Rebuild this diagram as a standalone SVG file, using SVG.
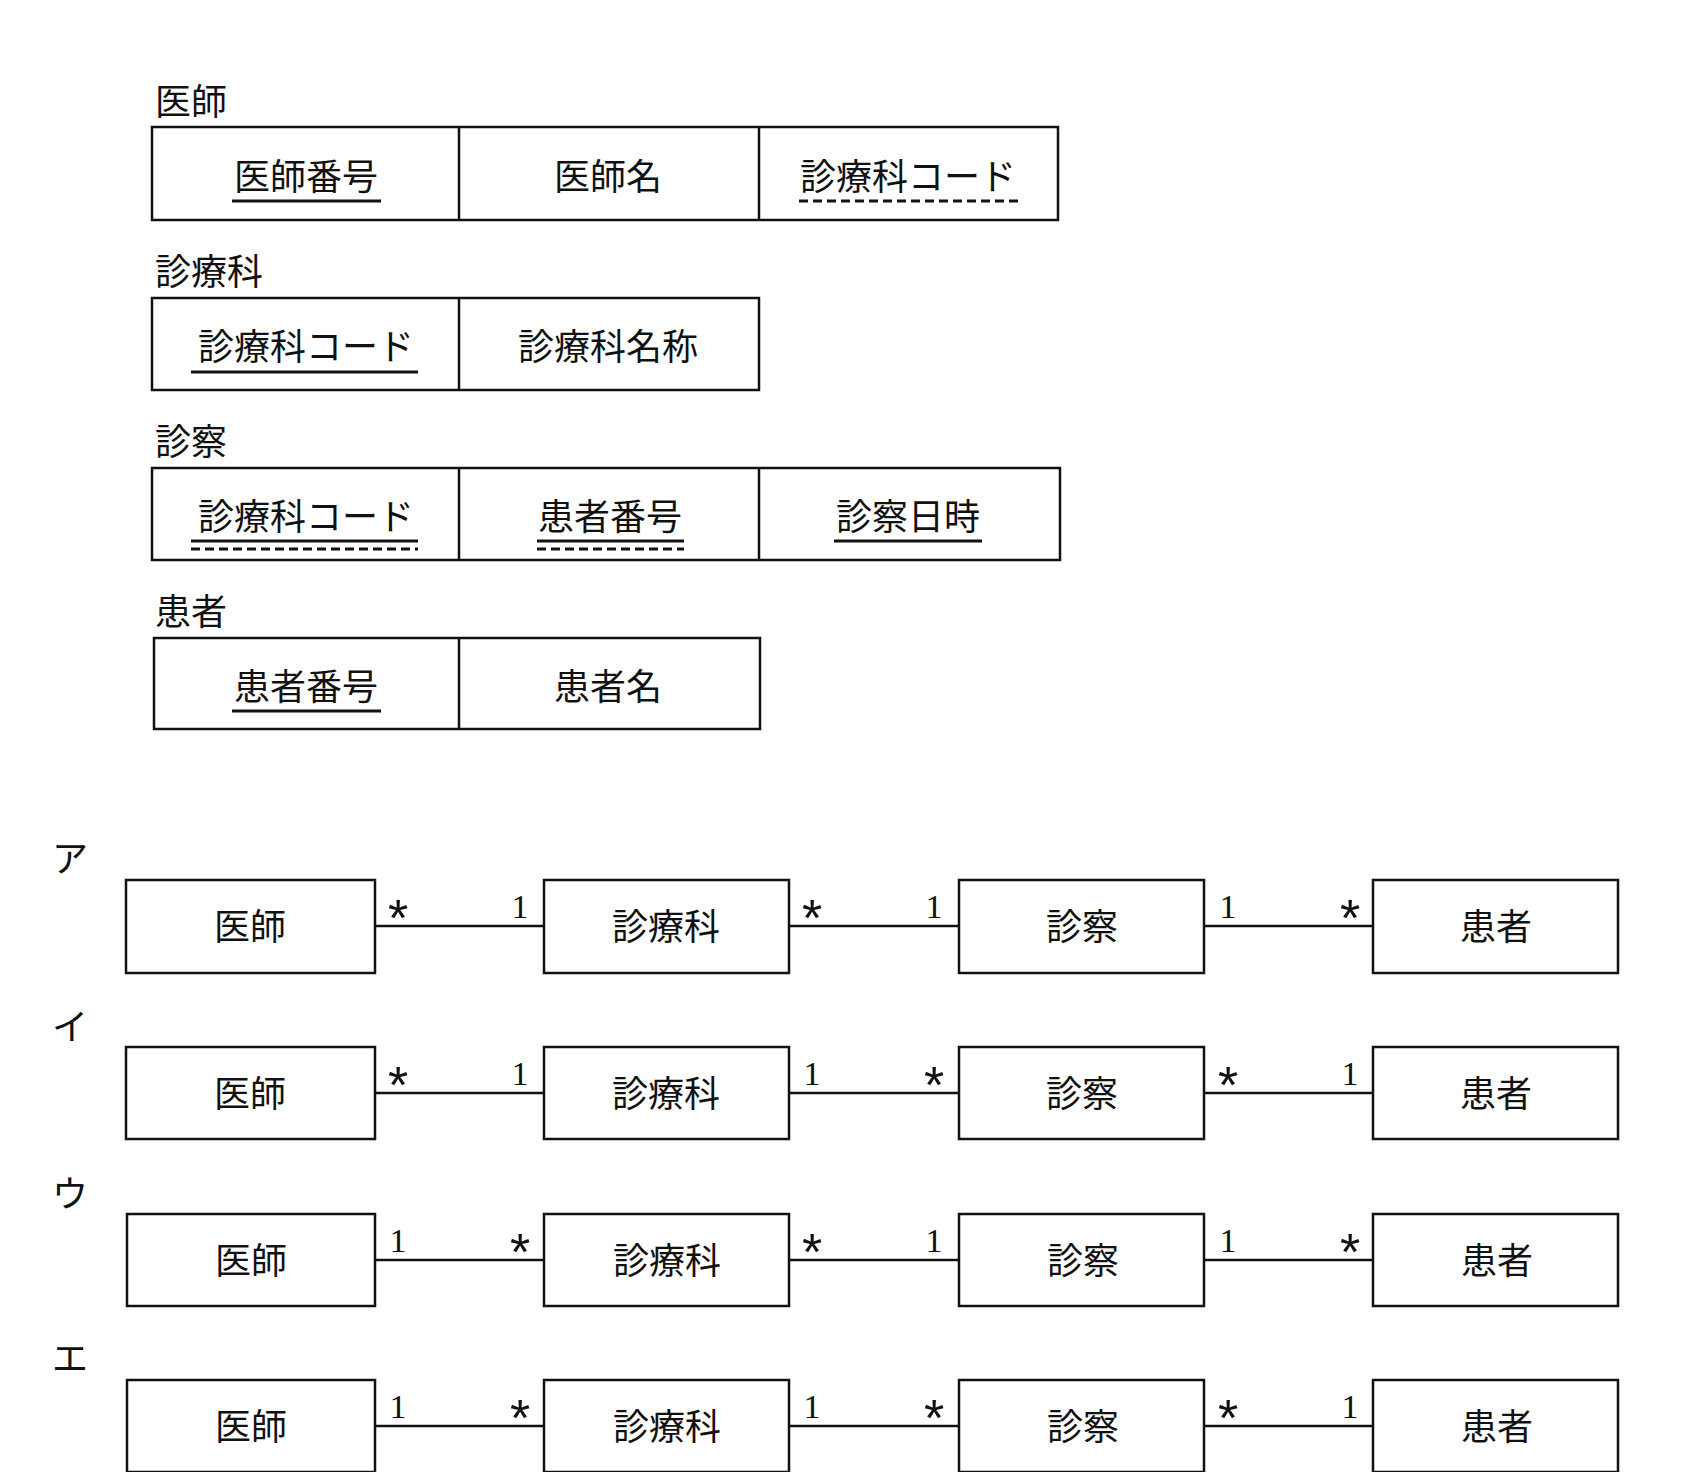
<svg xmlns="http://www.w3.org/2000/svg" width="1690" height="1472" viewBox="0 0 1690 1472">
<style>
text{font-family:"Liberation Serif","Noto Sans CJK JP",serif;fill:#111}
.t{font-size:36px}
.c{font-size:36px;text-anchor:middle}
.m{font-size:34px;text-anchor:middle}
.s{font-size:52px;text-anchor:middle;font-family:"Liberation Sans","Noto Sans CJK JP",sans-serif}
rect{fill:#fff;stroke:#111;stroke-width:2.5}
.d{stroke:#111;stroke-width:2.5}
.u{stroke:#111;stroke-width:3}
.k{stroke:#111;stroke-width:3;stroke-dasharray:9 5}
</style>
<rect x="0" y="0" width="1690" height="1472" style="fill:#fff;stroke:none"/>
<g id="t-ishi">
<text class="t" x="155" y="115">医師</text>
<rect x="152" y="127" width="906" height="93"/>
<line class="d" x1="459" y1="127" x2="459" y2="220"/><line class="d" x1="759" y1="127" x2="759" y2="220"/>
<text class="c" x="306" y="190">医師番号</text><line class="u" x1="232" y1="201" x2="381" y2="201"/>
<text class="c" x="608" y="190">医師名</text>
<text class="c" x="908" y="190">診療科コード</text><line class="k" x1="799" y1="201" x2="1019" y2="201"/>
</g>
<g id="t-ka">
<text class="t" x="155" y="285">診療科</text>
<rect x="152" y="298" width="607" height="92"/>
<line class="d" x1="459" y1="298" x2="459" y2="390"/>
<text class="c" x="306" y="360">診療科コード</text><line class="u" x1="191" y1="372" x2="418" y2="372"/>
<text class="c" x="608" y="360">診療科名称</text>
</g>
<g id="t-shinsatsu">
<text class="t" x="155" y="455">診察</text>
<rect x="152" y="468" width="908" height="92"/>
<line class="d" x1="459" y1="468" x2="459" y2="560"/><line class="d" x1="759" y1="468" x2="759" y2="560"/>
<text class="c" x="306" y="530">診療科コード</text><line class="u" x1="191" y1="541" x2="418" y2="541"/><line class="k" x1="191" y1="549" x2="418" y2="549"/>
<text class="c" x="610" y="530">患者番号</text><line class="u" x1="537" y1="541" x2="684" y2="541"/><line class="k" x1="537" y1="549" x2="684" y2="549"/>
<text class="c" x="908" y="530">診察日時</text><line class="u" x1="834" y1="541" x2="982" y2="541"/>
</g>
<g id="t-kanja">
<text class="t" x="155" y="625">患者</text>
<rect x="154" y="638" width="606" height="91"/>
<line class="d" x1="459" y1="638" x2="459" y2="729"/>
<text class="c" x="306" y="700">患者番号</text><line class="u" x1="232" y1="711" x2="381" y2="711"/>
<text class="c" x="608" y="700">患者名</text>
</g>
<g id="connectors">
<line class="d" x1="375" y1="926" x2="544" y2="926"/><line class="d" x1="789" y1="926" x2="959" y2="926"/><line class="d" x1="1204" y1="926" x2="1373" y2="926"/>
<line class="d" x1="375" y1="1093" x2="544" y2="1093"/><line class="d" x1="789" y1="1093" x2="959" y2="1093"/><line class="d" x1="1204" y1="1093" x2="1373" y2="1093"/>
<line class="d" x1="375" y1="1260" x2="544" y2="1260"/><line class="d" x1="789" y1="1260" x2="959" y2="1260"/><line class="d" x1="1204" y1="1260" x2="1373" y2="1260"/>
<line class="d" x1="375" y1="1426" x2="544" y2="1426"/><line class="d" x1="789" y1="1426" x2="959" y2="1426"/><line class="d" x1="1204" y1="1426" x2="1373" y2="1426"/>
<text class="s" x="398" y="936">*</text><text class="m" x="520" y="918">1</text><text class="s" x="812" y="936">*</text><text class="m" x="934" y="918">1</text><text class="m" x="1228" y="918">1</text><text class="s" x="1350" y="936">*</text>
<text class="s" x="398" y="1103">*</text><text class="m" x="520" y="1085">1</text><text class="m" x="812" y="1085">1</text><text class="s" x="934" y="1103">*</text><text class="s" x="1228" y="1103">*</text><text class="m" x="1350" y="1085">1</text>
<text class="m" x="398" y="1252">1</text><text class="s" x="520" y="1270">*</text><text class="s" x="812" y="1270">*</text><text class="m" x="934" y="1252">1</text><text class="m" x="1228" y="1252">1</text><text class="s" x="1350" y="1270">*</text>
<text class="m" x="398" y="1418">1</text><text class="s" x="520" y="1436">*</text><text class="m" x="812" y="1418">1</text><text class="s" x="934" y="1436">*</text><text class="s" x="1228" y="1436">*</text><text class="m" x="1350" y="1418">1</text>
</g>
<g id="opt-a"><text class="t" x="52" y="872">ア</text>
<g id="a1"><rect x="126" y="880" width="249" height="93"/><text class="c" x="250" y="940">医師</text></g>
<g id="a2"><rect x="544" y="880" width="245" height="93"/><text class="c" x="666" y="940">診療科</text></g>
<g id="a3"><rect x="959" y="880" width="245" height="93"/><text class="c" x="1082" y="940">診察</text></g>
<g id="a4"><rect x="1373" y="880" width="245" height="93"/><text class="c" x="1496" y="940">患者</text></g></g>
<g id="opt-i"><text class="t" x="52" y="1040">イ</text>
<g id="i1"><rect x="126" y="1047" width="249" height="92"/><text class="c" x="250" y="1107">医師</text></g>
<g id="i2"><rect x="544" y="1047" width="245" height="92"/><text class="c" x="666" y="1107">診療科</text></g>
<g id="i3"><rect x="959" y="1047" width="245" height="92"/><text class="c" x="1082" y="1107">診察</text></g>
<g id="i4"><rect x="1373" y="1047" width="245" height="92"/><text class="c" x="1496" y="1107">患者</text></g></g>
<g id="opt-u"><text class="t" x="52" y="1207">ウ</text>
<g id="u1"><rect x="127" y="1214" width="248" height="92"/><text class="c" x="251" y="1274">医師</text></g>
<g id="u2"><rect x="544" y="1214" width="245" height="92"/><text class="c" x="667" y="1274">診療科</text></g>
<g id="u3"><rect x="959" y="1214" width="245" height="92"/><text class="c" x="1083" y="1274">診察</text></g>
<g id="u4"><rect x="1373" y="1214" width="245" height="92"/><text class="c" x="1497" y="1274">患者</text></g></g>
<g id="opt-e"><text class="t" x="52" y="1372">エ</text>
<g id="e1"><rect x="127" y="1380" width="248" height="92"/><text class="c" x="251" y="1440">医師</text></g>
<g id="e2"><rect x="544" y="1380" width="245" height="92"/><text class="c" x="667" y="1440">診療科</text></g>
<g id="e3"><rect x="959" y="1380" width="245" height="92"/><text class="c" x="1083" y="1440">診察</text></g>
<g id="e4"><rect x="1373" y="1380" width="245" height="92"/><text class="c" x="1497" y="1440">患者</text></g></g>
</svg>
